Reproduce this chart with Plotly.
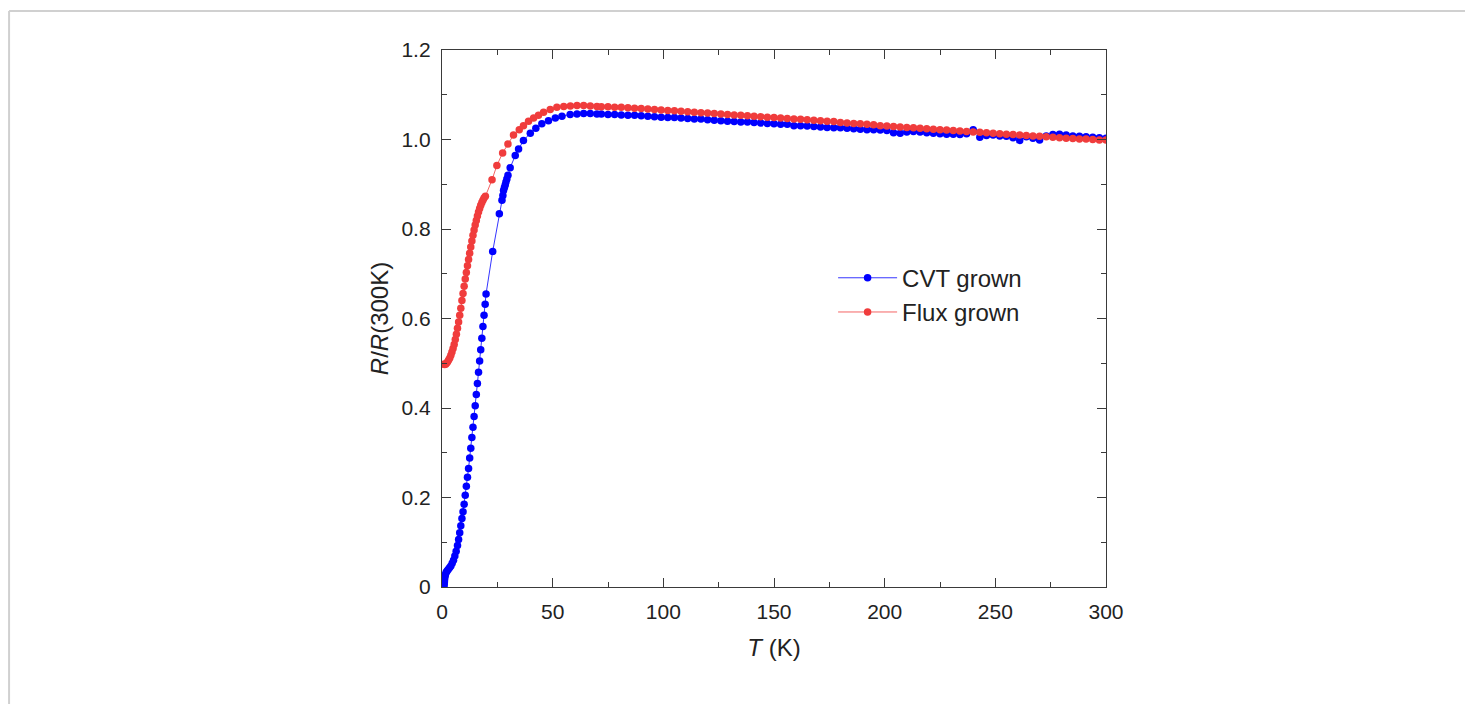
import plotly.graph_objects as go

# ---- CVT grown (blue) ----
cvt_T = [0.9, 1.0, 1.1, 1.2, 1.4, 1.6, 1.9, 2.3, 2.8, 3.4, 4.0, 4.6, 5.2, 5.8, 6.4, 7.0, 7.5, 8.0, 8.5,
         9.0, 9.5, 10.0, 10.5, 11.0, 11.5, 12.0, 12.5, 13.0, 13.5, 14.0, 14.5, 15.0, 15.5, 16.0, 16.5,
         17.0, 17.5, 18.0, 18.5, 19.0, 19.5, 19.9,
         22.9, 25.9, 27.1, 27.5, 27.8, 28.2, 28.6, 28.9, 29.3, 29.8,
         30.8, 33.1, 34.6, 36.8, 39.9, 42.4, 45.1, 48.1, 51.2, 54.2, 57.9, 61, 64, 67, 70,
         72, 75, 78, 81, 84, 87, 90, 93, 96, 99, 102, 105, 108, 111, 114, 117, 120, 123, 126, 129,
         132, 135, 138, 141, 144, 147, 150, 153, 156, 159, 162, 165, 168, 171, 174, 177, 180, 183,
         186, 189, 192, 195, 198, 201, 204, 207, 210, 213, 216, 219, 222, 225, 228, 231, 234, 237,
         240, 243, 246, 249, 252, 255, 258, 261, 264, 267, 270, 273, 276, 279, 282, 285, 288, 291,
         294, 297, 300]
cvt_R = [0.0, 0.006, 0.012, 0.018, 0.024, 0.029, 0.033, 0.036, 0.039, 0.043, 0.047, 0.053, 0.060, 0.069,
         0.080, 0.093, 0.106, 0.121, 0.137, 0.153, 0.168, 0.185, 0.205, 0.225, 0.245, 0.265, 0.288, 0.310,
         0.334, 0.357, 0.381, 0.405, 0.430, 0.455, 0.480, 0.505, 0.530, 0.556, 0.582, 0.607, 0.632, 0.655,
         0.750, 0.834, 0.864, 0.875, 0.886, 0.893, 0.899, 0.905, 0.912, 0.920,
         0.937, 0.964, 0.979, 0.998, 1.014, 1.025, 1.035, 1.042, 1.048, 1.052, 1.056, 1.057, 1.058, 1.058, 1.057,
         1.057, 1.056, 1.056, 1.055, 1.054, 1.054, 1.053, 1.052, 1.051, 1.050, 1.049, 1.049, 1.048, 1.047,
         1.046, 1.046, 1.044, 1.043, 1.042, 1.041, 1.040, 1.039, 1.039, 1.038, 1.037, 1.036, 1.035, 1.034,
         1.034, 1.031, 1.031, 1.030, 1.029, 1.028, 1.027, 1.026, 1.026, 1.025, 1.024, 1.023, 1.022, 1.022,
         1.021, 1.020, 1.015, 1.014, 1.017, 1.018, 1.017, 1.015, 1.014, 1.013, 1.012, 1.012, 1.011, 1.013,
         1.022, 1.005, 1.009, 1.010, 1.008, 1.007, 1.004, 0.998, 1.006, 1.003, 0.999, 1.008, 1.011, 1.012,
         1.010, 1.008, 1.007, 1.006, 1.005, 1.004, 1.003]

# ---- Flux grown (red) ----
flux_T = [0.8, 1.2, 1.6, 2.0, 2.5, 3.0, 3.5, 4.0, 4.5, 5.0, 5.5, 6.0, 6.5, 7.0, 7.5, 8.0, 8.5, 9.0, 9.5,
          10.0, 10.5, 11.0, 11.5, 12.0, 12.5, 13.0, 13.5, 14.0, 14.5, 15.0, 15.5, 16.0, 16.5, 17.0, 17.5,
          18.0, 18.5, 19.0, 19.6,
          22.6, 24.8, 27.4, 29.8, 32.3, 34.9, 36.8, 39.1, 41.4, 43.6, 45.9, 48.9, 51.9, 55, 58, 61, 64, 67, 70,
          72, 75, 78, 81, 84, 87, 90, 93, 96, 99, 102, 105, 108, 111, 114, 117, 120, 123, 126, 129,
          132, 135, 138, 141, 144, 147, 150, 153, 156, 159, 162, 165, 168, 171, 174, 177, 180, 183,
          186, 189, 192, 195, 198, 201, 204, 207, 210, 213, 216, 219, 222, 225, 228, 231, 234, 237,
          240, 243, 246, 249, 252, 255, 258, 261, 264, 267, 270, 273, 276, 279, 282, 285, 288, 291,
          294, 297, 300]
flux_R = [0.498, 0.497, 0.498, 0.500, 0.503, 0.507, 0.512, 0.518, 0.525, 0.533, 0.542, 0.553, 0.565, 0.578,
          0.592, 0.607, 0.623, 0.640, 0.656, 0.672, 0.688, 0.703, 0.718, 0.732, 0.746, 0.760, 0.773, 0.786,
          0.798, 0.809, 0.819, 0.829, 0.838, 0.846, 0.853, 0.859, 0.864, 0.869, 0.873,
          0.910, 0.942, 0.970, 0.990, 1.010, 1.022, 1.031, 1.041, 1.048, 1.054, 1.061, 1.067, 1.072, 1.074,
          1.075, 1.076, 1.076, 1.075, 1.074,
          1.073, 1.073, 1.072, 1.072, 1.071, 1.070, 1.069, 1.068, 1.067, 1.066, 1.065, 1.064, 1.063, 1.062,
          1.061, 1.060, 1.059, 1.058, 1.057, 1.056, 1.055, 1.054, 1.053, 1.052, 1.051, 1.050, 1.049, 1.048,
          1.047, 1.046, 1.045, 1.044, 1.043, 1.042, 1.041, 1.040, 1.038, 1.037, 1.036, 1.035, 1.034, 1.033,
          1.031, 1.030, 1.029, 1.028, 1.027, 1.026, 1.025, 1.024, 1.023, 1.022, 1.021, 1.020, 1.019, 1.018,
          1.017, 1.016, 1.015, 1.014, 1.013, 1.012, 1.011, 1.010, 1.009, 1.008, 1.007, 1.006, 1.005, 1.004,
          1.003, 1.002, 1.001, 1.001, 1.000, 0.999, 0.999]

x_ticks = [0, 50, 100, 150, 200, 250, 300]
x_ticktext = ["0", "50", "100", "150", "200", "250", "300"]
y_ticks = [0, 0.2, 0.4, 0.6, 0.8, 1.0, 1.2]
y_ticktext = ["0", "0.2", "0.4", "0.6", "0.8", "1.0", "1.2"]

BLUE = "#0000ff"
RED = "#f03c3c"
FONT = "Liberation Sans, Arial, sans-serif"
AX = "#3a3a3a"

fig = go.Figure()
fig.add_trace(go.Scatter(x=cvt_T, y=cvt_R, mode="lines+markers", name="CVT grown",
                         line=dict(color=BLUE, width=0.8),
                         marker=dict(color=BLUE, size=7.5)))
fig.add_trace(go.Scatter(x=flux_T, y=flux_R, mode="lines+markers", name="Flux grown",
                         line=dict(color=RED, width=0.8),
                         marker=dict(color=RED, size=7.5)))

axis_common = dict(showline=True, linecolor=AX, linewidth=1.3, mirror="ticks",
                   ticks="inside", ticklen=9, tickwidth=1.3, tickcolor=AX,
                   showgrid=False, zeroline=False,
                   tickfont=dict(family=FONT, size=21, color="#222"))

fig.update_xaxes(range=[0, 300], tickvals=x_ticks, ticktext=x_ticktext,
                 minor=dict(dtick=25, tick0=0, ticks="inside", ticklen=5, tickcolor=AX, tickwidth=1.3),
                 title=dict(text="<i>T</i> (K)", font=dict(family=FONT, size=24, color="#222"), standoff=16),
                 ticklabelstandoff=6,
                 **axis_common)
fig.update_yaxes(range=[0, 1.2], tickvals=y_ticks, ticktext=y_ticktext,
                 minor=dict(dtick=0.1, tick0=0, ticks="inside", ticklen=5, tickcolor=AX, tickwidth=1.3),
                 title=dict(text="<i>R</i>/<i>R</i>(300K)", font=dict(family=FONT, size=24, color="#222"), standoff=6),
                 ticklabelstandoff=6,
                 **axis_common)

# the page body adds an 8px margin, so the figure is 8px smaller and margins shifted by 8px
fig.update_layout(
    width=1465, height=696,
    margin=dict(l=434, r=367, t=42, b=117),
    paper_bgcolor="white", plot_bgcolor="white",
    showlegend=True,
    legend=dict(x=0.589, y=0.617, xanchor="left", yanchor="top", itemwidth=59,
                bgcolor="rgba(0,0,0,0)", borderwidth=0,
                font=dict(family=FONT, size=24, color="#222")),
    shapes=[
        dict(type="line", xref="paper", yref="paper", x0=-0.652, x1=2.0, y0=1.0726, y1=1.0726,
             line=dict(color="#d0d0d0", width=2)),
        dict(type="line", xref="paper", yref="paper", x0=-0.652, x1=-0.652, y0=1.0726, y1=-1.0,
             line=dict(color="#d0d0d0", width=2)),
    ],
)

fig.write_html("out.html")
